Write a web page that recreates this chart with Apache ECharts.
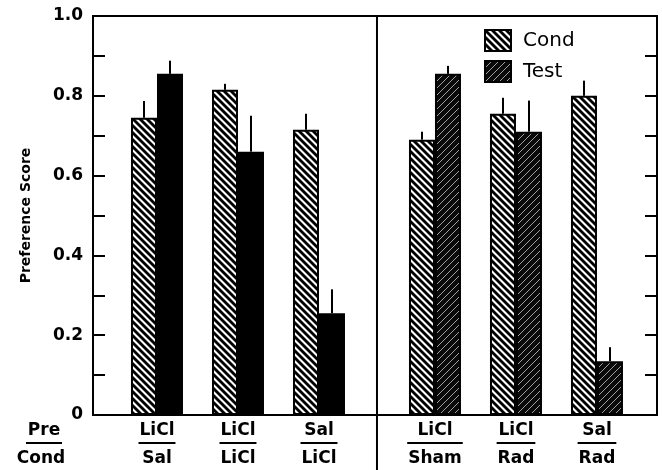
<!DOCTYPE html>
<html>
<head>
<meta charset="utf-8">
<script src="https://cdn.jsdelivr.net/npm/echarts@6/dist/echarts.min.js"></script>
<style>
  html, body { margin: 0; padding: 0; background: #fff; }
  #chart { width: 662px; height: 470px; }
</style>
</head>
<body>
<div id="chart"></div>
<script>
// groups: pre-exposure / conditioning
const preLabels = ['LiCl', 'LiCl', 'Sal', 'LiCl', 'LiCl', 'Sal'];
const condLabels = ['Sal', 'LiCl', 'LiCl', 'Sham', 'Rad', 'Rad'];

// preference scores and error bars
const condValues = [0.745, 0.815, 0.715, 0.69, 0.755, 0.80];
const condErr = [0.042, 0.015, 0.04, 0.02, 0.04, 0.038];
const testValues = [0.855, 0.66, 0.255, 0.855, 0.71, 0.135];
const testErr = [0.033, 0.09, 0.06, 0.02, 0.078, 0.035];

const FONT = '"DejaVu Sans", "Liberation Sans", Arial, sans-serif';

// x position of each group (gap between the two panels)
const pos = i => 0.79 + i + (i >= 3 ? 0.432 : 0);
const dividerX = 3.506;

function makeHatch(bg, fg, w, forward, n) {
  const c = document.createElement('canvas');
  c.width = n; c.height = n;
  const ctx = c.getContext('2d');
  ctx.fillStyle = bg;
  ctx.fillRect(0, 0, n, n);
  ctx.strokeStyle = fg;
  ctx.lineWidth = w;
  [-n, 0, n].forEach(k => {
    ctx.beginPath();
    if (forward) {
      ctx.moveTo(-1, k + n + 1); ctx.lineTo(n + 1, k - 1);
    } else {
      ctx.moveTo(-1, k - 1); ctx.lineTo(n + 1, k + n + 1);
    }
    ctx.stroke();
  });
  return { image: c, repeat: 'repeat' };
}

const condPattern = makeHatch('#fff', '#000', 2.8, false, 7);
const testPattern = makeHatch('#0a0a0a', '#a0a0a0', 1, true, 7);

const measure = document.createElement('canvas').getContext('2d');
measure.font = 'bold 17px ' + FONT;

function errorSeries(name, values, errs, off) {
  return {
    name: name,
    type: 'custom',
    z: 5,
    clip: false,
    encode: { x: 0, y: 1 },
    data: values.map((v, i) => [pos(i), v, errs[i]]),
    renderItem: function (params, api) {
      const x = api.value(0), v = api.value(1), e = api.value(2);
      const a = api.coord([x, v]);
      const b = api.coord([x, v + e]);
      return {
        type: 'line',
        shape: { x1: a[0] + off, y1: a[1], x2: b[0] + off, y2: b[1] },
        style: { stroke: '#000', lineWidth: 2 }
      };
    }
  };
}

const chart = echarts.init(document.getElementById('chart'));

const option = {
  animation: false,
  backgroundColor: '#fff',
  grid: {
    left: 93, right: 5, top: 16, bottom: 55,
    show: true, borderColor: '#000', borderWidth: 2, backgroundColor: 'transparent'
  },
  legend: {
    data: ['Cond', 'Test'],
    orient: 'vertical',
    left: 484,
    top: 29,
    padding: 0,
    icon: 'rect',
    itemWidth: 26,
    itemHeight: 21,
    itemGap: 8,
    textStyle: { fontSize: 20, fontFamily: FONT, color: '#000', padding: [0, 0, 0, 7] }
  },
  xAxis: {
    type: 'value',
    min: 0,
    max: 6.963,
    axisLine: { show: true, lineStyle: { color: '#000', width: 2 } },
    axisTick: { show: false },
    axisLabel: { show: false },
    splitLine: { show: false }
  },
  yAxis: [
    {
      type: 'value',
      min: 0, max: 1, interval: 0.1,
      name: 'Preference Score',
      nameLocation: 'middle',
      nameGap: 60,
      nameTextStyle: { fontSize: 14, fontWeight: 'bold', fontFamily: FONT, color: '#000' },
      axisLine: { show: true, lineStyle: { color: '#000', width: 2 } },
      axisTick: { show: true, inside: true, length: 12, lineStyle: { color: '#000', width: 2 } },
      axisLabel: {
        margin: 10,
        fontSize: 17, fontWeight: 'bold', fontFamily: FONT, color: '#000',
        formatter: v => {
          const k = Math.round(v * 10);
          if (k === 0) return '0';
          return k % 2 === 0 ? v.toFixed(1) : '';
        }
      },
      splitLine: { show: false }
    },
    {
      type: 'value',
      position: 'right',
      min: 0, max: 1, interval: 0.1,
      axisLine: { show: true, lineStyle: { color: '#000', width: 2 } },
      axisTick: { show: true, inside: true, length: 12, lineStyle: { color: '#000', width: 2 } },
      axisLabel: { show: false },
      splitLine: { show: false }
    }
  ],
  graphic: [
    { type: 'text', style: { text: 'Pre', x: 44, y: 431, align: 'center', verticalAlign: 'middle', font: 'bold 17px ' + FONT, fill: '#000' } },
    { type: 'line', shape: { x1: 26, y1: 443, x2: 62, y2: 443 }, style: { stroke: '#000', lineWidth: 2 } },
    { type: 'text', style: { text: 'Cond', x: 41, y: 459, align: 'center', verticalAlign: 'middle', font: 'bold 17px ' + FONT, fill: '#000' } }
  ],
  series: [
    {
      name: 'Cond',
      type: 'bar',
      barWidth: 26,
      barGap: '0%',
      itemStyle: { color: condPattern, borderColor: '#000', borderWidth: 2 },
      data: condValues.map((v, i) => [pos(i), v])
    },
    {
      name: 'Test',
      type: 'bar',
      barWidth: 26,
      barGap: '0%',
      itemStyle: { color: testPattern, borderColor: '#000', borderWidth: 2 },
      data: testValues.map((v, i) => i < 3
        ? { value: [pos(i), v], itemStyle: { color: '#000' } }
        : [pos(i), v])
    },
    errorSeries('condErr', condValues, condErr, -13),
    errorSeries('testErr', testValues, testErr, 13),
    {
      name: 'labels',
      type: 'custom',
      clip: false,
      encode: { x: 0, y: 1 },
      data: preLabels.map((p, i) => [pos(i), 0]),
      renderItem: function (params, api) {
        const p = api.coord([api.value(0), 0]);
        const i = params.dataIndex;
        const font = 'bold 17px ' + FONT;
        const w = Math.max(measure.measureText(preLabels[i]).width,
                           measure.measureText(condLabels[i]).width);
        const half = w / 2 + 1;
        return {
          type: 'group',
          children: [
            { type: 'text', style: { text: preLabels[i], x: p[0], y: p[1] + 16, align: 'center', verticalAlign: 'middle', font: font, fill: '#000' } },
            { type: 'line', shape: { x1: p[0] - half, y1: p[1] + 28, x2: p[0] + half, y2: p[1] + 28 }, style: { stroke: '#000', lineWidth: 2 } },
            { type: 'text', style: { text: condLabels[i], x: p[0], y: p[1] + 44, align: 'center', verticalAlign: 'middle', font: font, fill: '#000' } }
          ]
        };
      }
    },
    {
      name: 'divider',
      type: 'custom',
      clip: false,
      encode: { x: 0, y: 1 },
      data: [[dividerX, 1]],
      renderItem: function (params, api) {
        const top = api.coord([api.value(0), 1]);
        const bot = api.coord([api.value(0), 0]);
        return {
          type: 'line',
          shape: { x1: top[0], y1: top[1], x2: bot[0], y2: bot[1] + 56 },
          style: { stroke: '#000', lineWidth: 2 }
        };
      }
    }
  ]
};

chart.setOption(option);
</script>
</body>
</html>
